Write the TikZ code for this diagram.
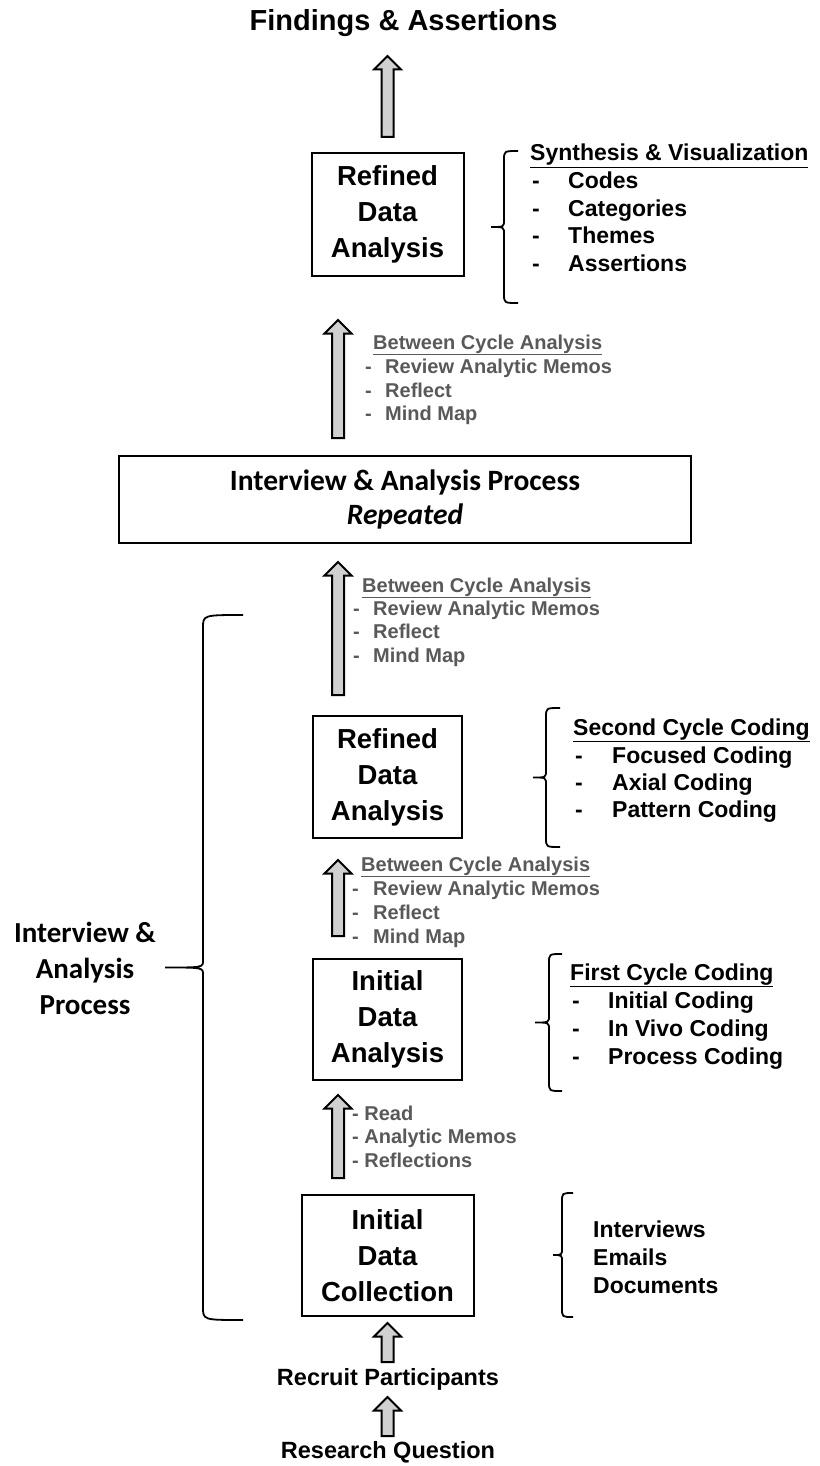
\documentclass[tikz,border=0pt]{standalone}
\usepackage{fontspec}
\setmainfont{Liberation Sans}
\newfontfamily\carlito{Carlito}
\usetikzlibrary{calc}
\definecolor{notegray}{RGB}{89,89,89}
\definecolor{arrowfill}{RGB}{208,208,208}
\newcommand\fsz[2]{\fontsize{#1}{#2}\selectfont}
\newcommand\blockarrow[2]{%
  \draw[blockarrowstyle] let \p1=(#1), \p2=(#2) in
    (\x1-6pt,\y1) -- (\x1-6pt,\y2-13.5pt) -- (\x1-13.5pt,\y2-13.5pt) -- (\x2,\y2)
    -- (\x1+13.5pt,\y2-13.5pt) -- (\x1+6pt,\y2-13.5pt) -- (\x1+6pt,\y1) -- cycle;}
% spine x, end x, tip x, top y, bottom y, mid y, corner
\newcommand\leftbrace[7]{%
  \draw[bracestyle] (#2,#4) .. controls (#1,#4) .. (#1,#4+#7) -- (#1,#6-7)
    .. controls (#1,#6) .. (#3,#6) .. controls (#1,#6) .. (#1,#6+7)
    -- (#1,#5-#7) .. controls (#1,#5) .. (#2,#5);}
\tikzset{
  box/.style={draw, line width=2pt, align=center, inner sep=0pt, font=\fsz{27.5}{36}\bfseries},
  blockarrowstyle/.style={draw=black, fill=arrowfill, line width=2pt, line join=miter},
  bracestyle/.style={draw=black, line width=1.8pt},
  listitem/.style={font=\fsz{23}{27}\bfseries, anchor=base west, inner sep=0pt},
  note/.style={font=\fsz{20}{23}\bfseries, text=notegray, anchor=base west, inner sep=0pt},
  bigtext/.style={font=\fsz{23.5}{28}\bfseries, anchor=base, inner sep=0pt}
}
\begin{document}
\begin{tikzpicture}[x=1pt, y=-1pt]
\useasboundingbox[fill=white] (0,0) rectangle (819,1466);

% title
\node[font=\fsz{29}{34}\bfseries, anchor=base, inner sep=0pt] (title) at (403.5,31) {Findings \& Assertions};

% boxes
\node[box, minimum width=152pt, minimum height=123pt] (rda) at (387.5,214.5) {Refined\\Data\\Analysis};
\node[box, minimum width=572pt, minimum height=87pt, font=\carlito\fsz{29.5}{34}\bfseries] (iap) at (405,499.5) {Interview \& Analysis Process\\\textit{Repeated}};
\node[box, minimum width=149pt, minimum height=122pt] (rdb) at (387.5,777) {Refined\\Data\\Analysis};
\node[box, minimum width=149pt, minimum height=121pt] (ida) at (387.5,1019.5) {Initial\\Data\\Analysis};
\node[box, minimum width=172pt, minimum height=121pt] (idc) at (387.5,1255.5) {Initial\\Data\\Collection};

% bottom texts
\node[bigtext] (recruit) at (388,1385) {Recruit Participants};
\node[bigtext] (rq) at (388,1458) {Research Question};

% block arrows
\coordinate (a1b) at (387.5,137);  \coordinate (a1t) at (387.5,56);
\coordinate (a2b) at (338,438);    \coordinate (a2t) at (338,320);
\coordinate (a3b) at (338,695);    \coordinate (a3t) at (338,562);
\coordinate (a4b) at (338,936);    \coordinate (a4t) at (338,860);
\coordinate (a5b) at (338,1178);   \coordinate (a5t) at (338,1095);
\coordinate (a6b) at (387.5,1362); \coordinate (a6t) at (387.5,1323);
\coordinate (a7b) at (387.5,1436); \coordinate (a7t) at (387.5,1397);
\blockarrow{a1b}{a1t}
\blockarrow{a2b}{a2t}
\blockarrow{a3b}{a3t}
\blockarrow{a4b}{a4t}
\blockarrow{a5b}{a5t}
\blockarrow{a6b}{a6t}
\blockarrow{a7b}{a7t}

% braces
\leftbrace{504}{518}{491}{151}{303}{227}{9}
\leftbrace{546}{560}{533}{708}{847}{777.5}{9}
\leftbrace{549}{562}{535}{954}{1091}{1022.5}{9}
\leftbrace{562}{573}{553}{1193}{1317}{1255}{9}
\leftbrace{203}{243}{165}{615}{1320}{967.5}{13}

% list 1
\node[listitem] (l1h) at (530,161) {\underline{Synthesis \& Visualization}};
\foreach \t/\y [count=\i] in {Codes/188.5, Categories/216, Themes/243.5, Assertions/271}{
  \node[listitem] (l1d\i) at (532,\y) {-};
  \node[listitem] (l1i\i) at (568,\y) {\t};
}
% list 2
\node[listitem] (l2h) at (573,735) {\underline{Second Cycle Coding}};
\foreach \t/\y [count=\i] in {Focused Coding/763, Axial Coding/790, Pattern Coding/817}{
  \node[listitem] (l2d\i) at (575,\y) {-};
  \node[listitem] (l2i\i) at (612,\y) {\t};
}
% list 3
\node[listitem] (l3h) at (570,980) {\underline{First Cycle Coding}};
\foreach \t/\y [count=\i] in {Initial Coding/1008, In Vivo Coding/1036, Process Coding/1064}{
  \node[listitem] (l3d\i) at (572,\y) {-};
  \node[listitem] (l3i\i) at (608,\y) {\t};
}
% list 4
\node[listitem] (l4a) at (593,1237) {Interviews};
\node[listitem] (l4b) at (593,1265) {Emails};
\node[listitem] (l4c) at (593,1293) {Documents};

% notes beside arrows
\node[note] (n2h) at (373,349) {\underline{Between Cycle Analysis}};
\foreach \t/\y [count=\i] in {Review Analytic Memos/373, Reflect/397, Mind Map/420}{
  \node[note] (n2d\i) at (365,\y) {-};
  \node[note] (n2i\i) at (385,\y) {\t};
}
\node[note] (n3h) at (362,592) {\underline{Between Cycle Analysis}};
\foreach \t/\y [count=\i] in {Review Analytic Memos/615, Reflect/638, Mind Map/662}{
  \node[note] (n3d\i) at (353,\y) {-};
  \node[note] (n3i\i) at (373,\y) {\t};
}
\node[note] (n4h) at (361,871) {\underline{Between Cycle Analysis}};
\foreach \t/\y [count=\i] in {Review Analytic Memos/895, Reflect/919, Mind Map/943}{
  \node[note] (n4d\i) at (352,\y) {-};
  \node[note] (n4i\i) at (373,\y) {\t};
}
\node[note] (n5a) at (352,1120) {- Read};
\node[note] (n5b) at (352,1143) {- Analytic Memos};
\node[note] (n5c) at (352,1167) {- Reflections};

% left label
\node[font=\carlito\fsz{29}{36}\bfseries, align=center, inner sep=0pt] (lbl) at (85,968) {Interview \&\\Analysis\\Process};
\end{tikzpicture}
\end{document}
